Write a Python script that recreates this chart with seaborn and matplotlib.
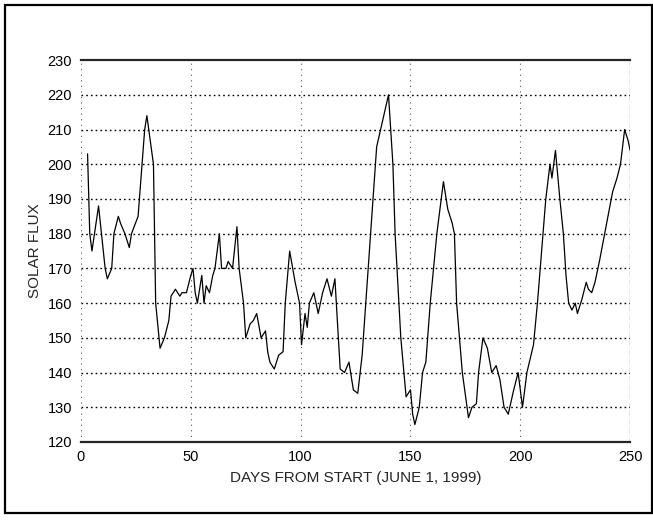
import numpy as np
import pandas as pd
import matplotlib
matplotlib.use('Agg')
import matplotlib.pyplot as plt
import seaborn as sns
from matplotlib.patches import Rectangle

# Solar flux values
days = [3, 4, 5, 8, 11, 12, 14, 15, 17, 18, 20, 22, 23, 26, 29, 30, 33, 34, 36, 38,
        40, 41, 43, 45, 46, 48, 50, 51, 52, 53, 55, 56, 57, 58.5, 60, 61, 63, 64, 66, 67,
        69, 71, 72, 74, 75, 77, 78.5, 80, 82, 84, 85, 86, 88, 90, 92, 93, 95, 97.5, 99.5, 100.4,
        102, 103, 104, 106, 108, 110, 112, 114, 115.6, 118, 120, 122, 124, 126, 128, 134.6, 137.5, 140, 142, 143,
        145.6, 148, 150, 151, 152, 154, 155.5, 157, 159, 162, 165, 167, 169, 170, 171, 173.6, 176.4, 178, 180, 181,
        183, 185, 187, 189, 190.7, 192.6, 194.5, 197, 199, 201, 203, 206, 207.8, 209.7, 211.6, 213.5, 214.4, 216, 218, 219.6,
        220.8, 222, 223.5, 225, 226, 228, 230, 231, 232.5, 234, 236, 242, 244, 245.6, 247.5, 249, 250]
flux = [203, 180, 175, 188, 170, 167, 170, 180, 185, 183, 180, 176, 180, 185, 210, 214, 200, 160, 147, 150,
        155, 162, 164, 162, 163, 163, 168, 170, 163, 160, 168, 160, 165, 163, 168, 170, 180, 170, 170, 172,
        170, 182, 170, 160, 150, 154, 155, 157, 150, 152, 146, 143, 141, 145, 146, 160, 175, 166, 160, 148,
        157, 153, 160, 163, 157, 163, 167, 162, 167, 141, 140, 143, 135, 134, 145, 205, 213, 220, 200, 180,
        150, 133, 135, 128, 125, 130, 140, 143, 160, 180, 195, 187, 183, 180, 160, 140, 127, 130, 131, 140,
        150, 147, 140, 142, 138, 130, 128, 135, 140, 130, 140, 148, 160, 175, 190, 200, 196, 204, 190, 180,
        168, 160, 158, 160, 157, 161, 166, 164, 163, 166, 172, 192, 196, 200, 210, 207, 204]

y_ticks = list(range(120, 231, 10))
x_ticks = [0, 50, 100, 150, 200, 250]

df = pd.DataFrame({'day': days, 'flux': flux})

sns.set_style('white')
plt.rcParams['font.family'] = ['Liberation Sans', 'DejaVu Sans']

fig = plt.figure(figsize=(6.53, 5.23), dpi=100)
ax = fig.add_axes([0.124, 0.155, 0.841, 0.730])

# dotted grid
for v in y_ticks[1:-1]:
    ax.axhline(v, color='black', linestyle=(0, (1.2, 2.2)), linewidth=1.0, zorder=1)
for d in x_ticks[:-1]:
    ax.axvline(d, color='#555555', linestyle=(0, (1, 4)), linewidth=0.8, zorder=1)
ax.axvline(250, color='#333333', linestyle=(0, (4, 3)), linewidth=0.9, zorder=1)

sns.lineplot(data=df, x='day', y='flux', ax=ax, color='black', linewidth=0.9,
             estimator=None, sort=False, zorder=3)

ax.set_xlim(0, 250)
ax.set_ylim(120, 230)
ax.set_xticks(x_ticks)
ax.set_yticks(y_ticks)
ax.tick_params(axis='both', direction='inout', length=7, width=0.9, labelsize=10.5,
               colors='black', pad=3)
ax.tick_params(axis='x', length=0, pad=6)

for side in ['left', 'right']:
    ax.spines[side].set_visible(False)
ax.spines['top'].set_linewidth(1.6)
ax.spines['bottom'].set_linewidth(1.6)

ax.set_xlabel('DAYS FROM START (JUNE 1, 1999)', fontsize=11, labelpad=5)
ax.set_ylabel('SOLAR FLUX', fontsize=11, labelpad=4)

# outer frame of the scanned page
fig.patches.append(Rectangle((0.008, 0.02), 0.99, 0.97, transform=fig.transFigure,
                             fill=False, edgecolor='black', linewidth=1.6))

fig.savefig('out.png', dpi=100)
